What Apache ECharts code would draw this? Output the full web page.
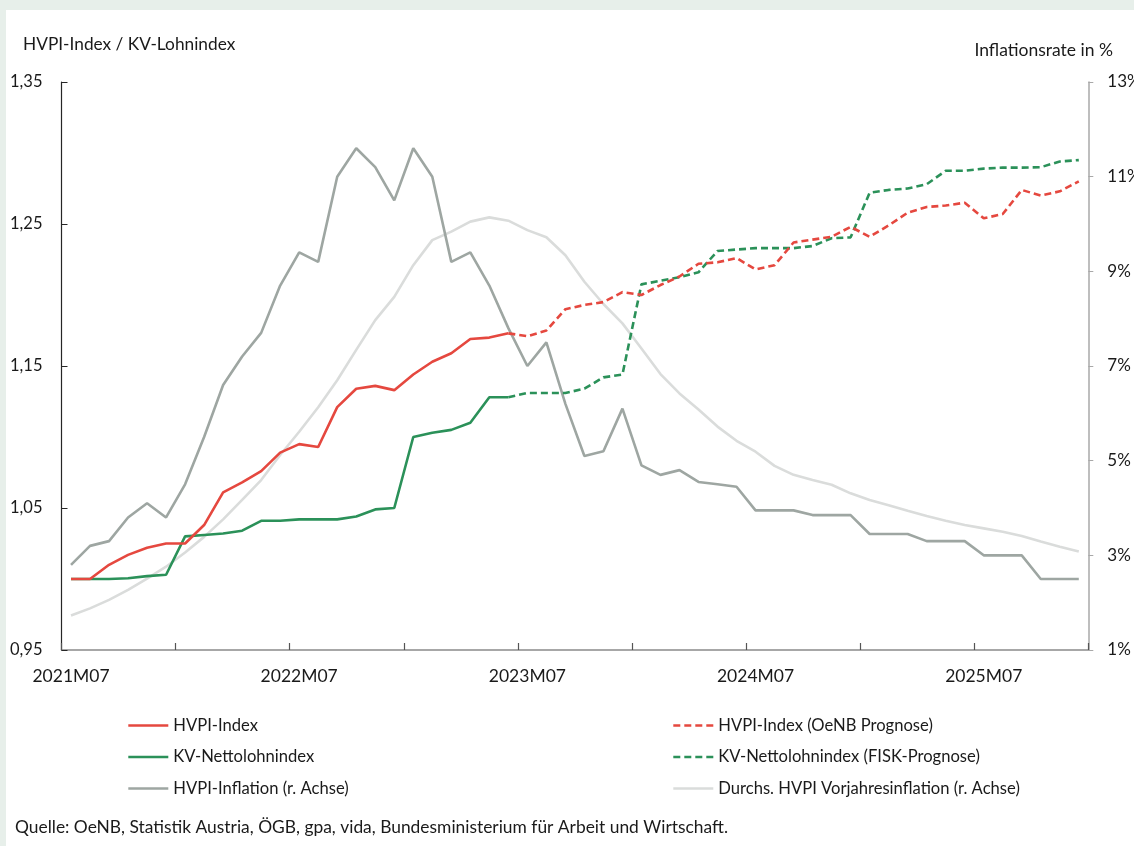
<!DOCTYPE html>
<html>
<head>
<meta charset="utf-8">
<script src="https://cdn.jsdelivr.net/npm/echarts@6.0.0/dist/echarts.min.js"></script>
<style>
  html, body { margin: 0; padding: 0; background: #e7efea; }
  #chart { position: absolute; left: 6px; top: 10px; width: 1128px; height: 836px; background: #fff; }
</style>
</head>
<body>
<div id="chart"></div>
<script>
// Monate 2021M07 - 2025M12
const months = [
  '2021M07','2021M08','2021M09','2021M10','2021M11','2021M12',
  '2022M01','2022M02','2022M03','2022M04','2022M05','2022M06','2022M07','2022M08','2022M09','2022M10','2022M11','2022M12',
  '2023M01','2023M02','2023M03','2023M04','2023M05','2023M06','2023M07','2023M08','2023M09','2023M10','2023M11','2023M12',
  '2024M01','2024M02','2024M03','2024M04','2024M05','2024M06','2024M07','2024M08','2024M09','2024M10','2024M11','2024M12',
  '2025M01','2025M02','2025M03','2025M04','2025M05','2025M06','2025M07','2025M08','2025M09','2025M10','2025M11','2025M12'
];

// HVPI-Index, Ist (2021M07 - 2023M06)
const hvpiIndex = [1.000, 1.000, 1.010, 1.017, 1.022, 1.025, 1.025, 1.038, 1.061, 1.068, 1.076, 1.089,
  1.095, 1.093, 1.121, 1.134, 1.136, 1.133, 1.144, 1.153, 1.159, 1.169, 1.170, 1.173];
// HVPI-Index OeNB Prognose (ab 2023M06)
const hvpiPrognose = [1.173, 1.171, 1.175, 1.190, 1.193, 1.195, 1.202, 1.200, 1.207, 1.213, 1.222, 1.223,
  1.226, 1.218, 1.221, 1.237, 1.239, 1.241, 1.248, 1.241, 1.249, 1.258, 1.262, 1.263, 1.265, 1.254,
  1.257, 1.274, 1.270, 1.273, 1.280];

// KV-Nettolohnindex, Ist
const kvIndex = [1.000, 1.000, 1.000, 1.0005, 1.002, 1.003, 1.030, 1.031, 1.032, 1.034, 1.041, 1.041,
  1.042, 1.042, 1.042, 1.044, 1.049, 1.050, 1.100, 1.103, 1.105, 1.110, 1.128, 1.128];
// KV-Nettolohnindex FISK-Prognose (ab 2023M06)
const kvPrognose = [1.128, 1.131, 1.131, 1.131, 1.134, 1.142, 1.144, 1.2075, 1.210, 1.2125, 1.216, 1.231,
  1.232, 1.233, 1.233, 1.233, 1.2345, 1.240, 1.2406, 1.272, 1.274, 1.275, 1.278, 1.2875, 1.2875, 1.289,
  1.2897, 1.2897, 1.290, 1.294, 1.295];

// HVPI-Inflation in % (r. Achse)
const hvpiInflation = [2.8, 3.2, 3.3, 3.8, 4.1, 3.8, 4.5, 5.5, 6.6, 7.2, 7.7, 8.7,
  9.4, 9.2, 11.0, 11.6, 11.2, 10.5, 11.6, 11.0, 9.2, 9.4, 8.7, 7.8,
  7.0, 7.5, 6.2, 5.1, 5.2, 6.1, 4.9, 4.7, 4.8, 4.55, 4.5, 4.45,
  3.95, 3.95, 3.95, 3.85, 3.85, 3.85, 3.45, 3.45, 3.45, 3.3, 3.3, 3.3,
  3.0, 3.0, 3.0, 2.5, 2.5, 2.5];

// Durchschn. HVPI Vorjahresinflation in % (r. Achse)
const vorjahresInflation = [1.73, 1.88, 2.06, 2.27, 2.51, 2.76, 3.06, 3.39, 3.76, 4.17, 4.59, 5.12,
  5.61, 6.13, 6.70, 7.34, 7.97, 8.46, 9.13, 9.66, 9.84, 10.05, 10.14, 10.07,
  9.87, 9.72, 9.34, 8.78, 8.31, 7.90, 7.37, 6.83, 6.42, 6.08, 5.72, 5.42,
  5.19, 4.89, 4.70, 4.59, 4.49, 4.31, 4.17, 4.06, 3.94, 3.83, 3.73, 3.64,
  3.57, 3.50, 3.41, 3.29, 3.18, 3.08];

const RED = '#e5483f';
const GREEN = '#2b9159';
const GRAY = '#9ea6a2';
const LIGHT = '#dadcdb';
const FONT = 'Lato';
const TXT = '#1a1a1a';

// Ist-Werte vorne, Prognose hinten mit Lücken auffüllen
function padEnd (arr) {
  return arr.concat(new Array(months.length - arr.length).fill('-'));
}
function padStart (arr) {
  return new Array(months.length - arr.length).fill('-').concat(arr);
}

let chartDom = document.getElementById('chart');
let myChart = echarts.init(chartDom, null, { renderer: 'canvas' });

function lineSeries (name, data, color, yIdx, dashed, z) {
  return {
    name: name,
    type: 'line',
    data: data,
    yAxisIndex: yIdx,
    symbol: 'none',
    showSymbol: false,
    smooth: false,
    connectNulls: false,
    z: z,
    lineStyle: { color: color, width: 2.6, type: dashed ? [7, 4] : 'solid' },
    itemStyle: { color: color },
    emphasis: { disabled: true },
  };
}

const legendText = { fontFamily: FONT, fontSize: 16.6, color: TXT, lineHeight: 16 };
const legendBase = {
  orient: 'vertical',
  top: 707, padding: 0,
  itemWidth: 40, itemHeight: 14, itemGap: 14.5,
  selectedMode: false,
  textStyle: legendText,
  itemStyle: { color: 'transparent', borderColor: 'transparent', borderWidth: 0, opacity: 0 },
  lineStyle: { width: 2.6, type: 'inherit' },
};

let option = {
  animation: false,
  textStyle: { fontFamily: FONT },
  title: [
    {
      text: 'HVPI-Index / KV-Lohnindex',
      left: 17, top: 26, padding: 0,
      textStyle: { fontFamily: FONT, fontSize: 17.3, fontWeight: 'normal', color: TXT },
    },
    {
      text: 'Inflationsrate in %',
      right: 21, top: 31, padding: 0,
      textStyle: { fontFamily: FONT, fontSize: 17.5, fontWeight: 'normal', color: TXT },
    },
    {
      text: 'Quelle: OeNB, Statistik Austria, ÖGB, gpa, vida, Bundesministerium für Arbeit und Wirtschaft.',
      left: 9, top: 809, padding: 0,
      textStyle: { fontFamily: FONT, fontSize: 17.4, fontWeight: 'normal', color: TXT },
    },
  ],
  legend: [
    Object.assign({}, legendBase, {
      left: 121,
      data: ['HVPI-Index', 'KV-Nettolohnindex', 'HVPI-Inflation (r. Achse)'],
    }),
    Object.assign({}, legendBase, {
      left: 666,
      data: ['HVPI-Index (OeNB Prognose)', 'KV-Nettolohnindex (FISK-Prognose)', 'Durchs. HVPI Vorjahresinflation (r. Achse)'],
    }),
  ],
  grid: { left: 55.5, right: 45.7, top: 72, bottom: 196, containLabel: false, outerBoundsMode: 'none' },
  xAxis: {
    type: 'category',
    data: months,
    boundaryGap: true,
    axisLine: { lineStyle: { color: '#8a8a8a', width: 1.5 } },
    axisTick: { show: true, inside: true, interval: 5, length: 7, alignWithLabel: false, lineStyle: { color: '#555', width: 1.2 } },
    axisLabel: { interval: 11, margin: 17, fontFamily: FONT, fontSize: 17.5, color: TXT },
    splitLine: { show: false },
  },
  yAxis: [
    {
      type: 'value',
      position: 'left',
      min: 0.95, max: 1.35, interval: 0.1,
      axisLine: { show: true, lineStyle: { color: '#262626', width: 1.2 } },
      axisTick: { show: true, inside: true, length: 6, lineStyle: { color: '#262626' } },
      axisLabel: {
        margin: 19, fontFamily: FONT, fontSize: 16.5, color: TXT,
        formatter: (v) => v.toFixed(2).replace('.', ','),
      },
      splitLine: { show: false },
    },
    {
      type: 'value',
      position: 'right',
      min: 1, max: 13, interval: 2,
      axisLine: { show: true, lineStyle: { color: '#a8a8a8', width: 1.5 } },
      axisTick: { show: true, inside: false, length: 5, lineStyle: { color: '#a8a8a8' } },
      axisLabel: {
        margin: 19, fontFamily: FONT, fontSize: 17, color: TXT,
        formatter: (v) => Math.round(v) + '%',
      },
      splitLine: { show: false },
    },
  ],
  series: [
    lineSeries('Durchs. HVPI Vorjahresinflation (r. Achse)', vorjahresInflation, LIGHT, 1, false, 1),
    lineSeries('HVPI-Inflation (r. Achse)', hvpiInflation, GRAY, 1, false, 2),
    lineSeries('KV-Nettolohnindex', padEnd(kvIndex), GREEN, 0, false, 3),
    lineSeries('KV-Nettolohnindex (FISK-Prognose)', padStart(kvPrognose), GREEN, 0, true, 3),
    lineSeries('HVPI-Index', padEnd(hvpiIndex), RED, 0, false, 4),
    lineSeries('HVPI-Index (OeNB Prognose)', padStart(hvpiPrognose), RED, 0, true, 4),
  ],
};

option && myChart.setOption(option);
</script>
</body>
</html>
